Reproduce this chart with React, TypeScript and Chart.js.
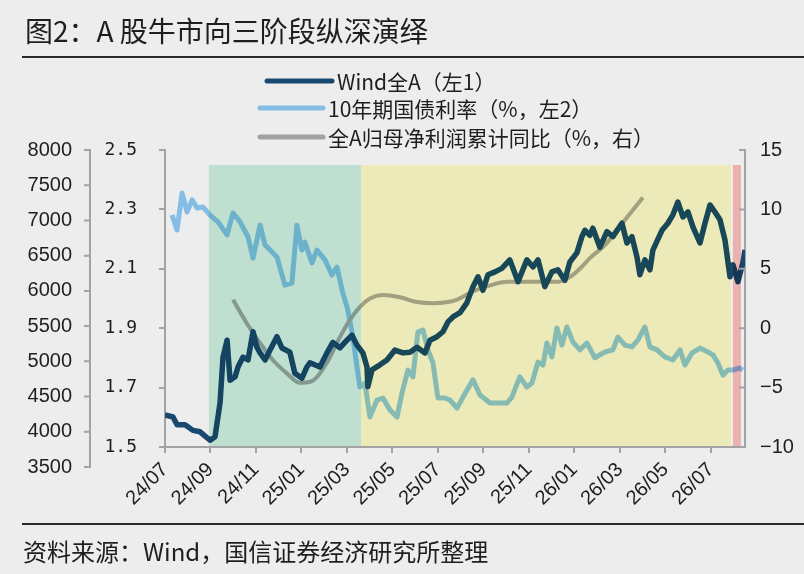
import { useEffect, useRef } from 'react';
import { Chart, registerables } from 'chart.js';

Chart.register(...registerables);

// x 轴单位：月，0 = 24/07
const tickMonths = [0, 2, 4, 6, 8, 10, 12, 14, 16, 18, 20, 22, 24];
const tickLabels = ['24/07', '24/09', '24/11', '25/01', '25/03', '25/05', '25/07', '25/09', '25/11', '26/01', '26/03', '26/05', '26/07'];

// Wind全A（左1）
const windT = [0, 0.35, 0.53, 0.88, 1.23, 1.54, 1.98, 2.2, 2.42, 2.55, 2.73, 2.86, 3.08, 3.21, 3.43, 3.65, 3.87, 4.04, 4.18, 4.4, 4.62, 4.92, 5.14, 5.49, 5.71, 6.02, 6.24, 6.37, 6.81, 7.12, 7.38, 7.69, 8.0, 8.22, 8.44, 8.7, 8.88, 8.92, 9.1, 9.45, 9.76, 10.11, 10.46, 10.77, 11.08, 11.43, 11.65, 11.96, 12.22, 12.44, 12.66, 12.97, 13.27, 13.54, 13.76, 13.98, 14.2, 14.51, 14.81, 15.16, 15.52, 15.91, 16.18, 16.4, 16.7, 17.01, 17.27, 17.58, 17.8, 18.11, 18.33, 18.46, 18.68, 18.81, 19.12, 19.43, 19.69, 20.09, 20.31, 20.53, 20.75, 20.88, 21.1, 21.32, 21.45, 21.85, 22.11, 22.33, 22.55, 22.77, 22.99, 23.21, 23.52, 23.74, 23.96, 24.18, 24.4, 24.62, 24.84, 24.97, 25.19, 25.41, 25.5];
const windV = [4240, 4210, 4100, 4100, 4020, 4000, 3880, 3930, 4410, 5060, 5300, 4730, 4780, 4920, 5060, 5020, 5420, 5200, 5120, 5020, 5160, 5350, 5190, 5130, 4830, 4760, 4920, 4980, 4920, 5120, 5270, 5190, 5300, 5370, 5230, 5120, 4920, 4640, 4880, 4950, 5020, 5160, 5120, 5130, 5200, 5120, 5300, 5350, 5420, 5560, 5630, 5690, 5830, 6060, 6200, 6010, 6230, 6270, 6320, 6440, 6130, 6440, 6340, 6440, 6060, 6270, 6300, 6150, 6410, 6540, 6770, 6860, 6790, 6890, 6620, 6840, 6770, 6960, 6680, 6770, 6480, 6230, 6440, 6300, 6580, 6860, 6960, 7080, 7260, 7050, 7120, 6910, 6680, 6960, 7220, 7120, 7010, 6720, 6200, 6370, 6130, 6400, 6580];

// 10年期国债利率（%，左2）
const bondT = [0.31, 0.53, 0.75, 0.97, 1.19, 1.41, 1.67, 1.98, 2.33, 2.73, 2.99, 3.3, 3.65, 3.87, 4.18, 4.4, 4.62, 4.92, 5.27, 5.58, 5.8, 6.02, 6.15, 6.46, 6.68, 7.03, 7.34, 7.56, 7.82, 8.04, 8.26, 8.44, 8.57, 8.79, 9.01, 9.32, 9.58, 9.89, 10.2, 10.42, 10.68, 10.9, 11.12, 11.34, 11.56, 11.78, 12.0, 12.31, 12.53, 12.84, 13.1, 13.54, 13.85, 14.29, 14.64, 15.03, 15.25, 15.6, 15.91, 16.13, 16.4, 16.62, 16.79, 17.01, 17.23, 17.45, 17.67, 17.93, 18.24, 18.55, 18.9, 19.34, 19.69, 19.91, 20.22, 20.53, 20.79, 21.1, 21.32, 21.63, 21.98, 22.33, 22.64, 22.86, 23.16, 23.52, 23.87, 24.09, 24.31, 24.53, 24.75, 24.97, 25.27, 25.41];
const bondV = [2.281, 2.231, 2.355, 2.291, 2.332, 2.305, 2.308, 2.281, 2.258, 2.214, 2.288, 2.258, 2.207, 2.136, 2.247, 2.18, 2.163, 2.14, 2.045, 2.052, 2.247, 2.163, 2.19, 2.12, 2.163, 2.13, 2.079, 2.106, 2.018, 1.961, 1.87, 1.769, 1.702, 1.715, 1.601, 1.658, 1.665, 1.625, 1.601, 1.682, 1.759, 1.736, 1.887, 1.894, 1.827, 1.783, 1.665, 1.665, 1.658, 1.631, 1.668, 1.726, 1.675, 1.648, 1.648, 1.648, 1.668, 1.736, 1.702, 1.715, 1.786, 1.776, 1.85, 1.803, 1.901, 1.843, 1.904, 1.854, 1.827, 1.85, 1.8, 1.82, 1.827, 1.87, 1.843, 1.837, 1.86, 1.904, 1.837, 1.827, 1.803, 1.793, 1.827, 1.776, 1.816, 1.833, 1.82, 1.81, 1.783, 1.742, 1.759, 1.759, 1.766, 1.759];

// 全A归母净利润累计同比（%，右）
const profitT = [2.99, 3.6, 4.18, 4.75, 5.36, 5.93, 6.51, 7.12, 7.69, 8.13, 8.57, 9.01, 9.58, 10.33, 11.08, 11.78, 12.44, 12.84, 13.54, 14.29, 15.03, 15.74, 16.48, 17.23, 17.8, 18.24, 18.68, 19.34, 20.22, 21.01];
const profitV = [2.4, 0.4, -1.25, -2.7, -3.8, -4.6, -4.4, -2.9, -0.75, 0.7, 1.8, 2.5, 2.8, 2.6, 2.2, 2.1, 2.2, 2.4, 3.1, 3.6, 3.9, 3.9, 3.9, 3.9, 4.3, 5.0, 5.9, 7.0, 9.1, 11.0];

const windTicks = [3500, 4000, 4500, 5000, 5500, 6000, 6500, 7000, 7500, 8000];
const bondTicks = [1.5, 1.7, 1.9, 2.1, 2.3, 2.5];

// 三个阶段（月）
const phaseFrom = [1.93, 8.62, 24.97];
const phaseTo = [8.62, 24.88, 25.32];
const phaseColors = ['rgb(206,240,225)', 'rgb(255,252,200)', 'rgb(253,190,190)'];

const BG = '#ededed';
const AXIS = '#a3a3a3';
const TEXT = '#1e1e1e';
const WIND_COLOR = '#18486f';
const BOND_COLOR = '#86bde6';
const PROFIT_COLOR = '#a2a2a2';

const toPoints = (t: number[], v: number[]) => t.map((x, i) => ({ x, y: v[i] }));

const legendRows = [
  { x0: 267, x1: 332, tx: 337, y: 81 },
  { x0: 260, x1: 323, tx: 328, y: 108 },
  { x0: 260, x1: 323, tx: 328, y: 137 },
];

const decorPlugin = {
  id: 'decor',
  beforeDraw(chart: any) {
    const { ctx, width, height } = chart;
    ctx.save();
    ctx.fillStyle = BG;
    ctx.fillRect(0, 0, width, height);
    ctx.restore();
  },
  afterDatasetsDraw(chart: any) {
    const { ctx, chartArea, scales } = chart;
    ctx.save();
    ctx.globalCompositeOperation = 'multiply';
    phaseFrom.forEach((f, i) => {
      const x0 = scales.x.getPixelForValue(f);
      const x1 = scales.x.getPixelForValue(phaseTo[i]);
      ctx.fillStyle = phaseColors[i];
      ctx.fillRect(x0, chartArea.top + 15, x1 - x0, chartArea.bottom - chartArea.top - 16);
    });
    ctx.restore();
  },
  afterDraw(chart: any) {
    const { ctx, chartArea, scales } = chart;
    ctx.save();
    ctx.strokeStyle = AXIS;
    ctx.lineWidth = 2;

    // 左1 轴（Wind全A），比绘图区更长
    const y1 = scales.y1;
    const top = y1.getPixelForValue(8000);
    const bot = y1.getPixelForValue(3500);
    ctx.beginPath();
    ctx.moveTo(90, top - 1);
    ctx.lineTo(90, bot + 1);
    windTicks.forEach((v) => {
      const py = y1.getPixelForValue(v);
      ctx.moveTo(84, py);
      ctx.lineTo(90, py);
    });
    ctx.stroke();
    ctx.fillStyle = TEXT;
    ctx.font = '20px "Liberation Sans", Arial, sans-serif';
    ctx.textAlign = 'right';
    ctx.textBaseline = 'middle';
    windTicks.forEach((v) => ctx.fillText(String(v), 72, y1.getPixelForValue(v)));

    // 右轴刻度朝内
    const y3 = scales.y3;
    ctx.beginPath();
    y3.ticks.forEach((t: any) => {
      const py = y3.getPixelForValue(t.value);
      ctx.moveTo(chartArea.right - 6, py);
      ctx.lineTo(chartArea.right, py);
    });
    ctx.stroke();

    // 图例
    ctx.lineCap = 'round';
    ctx.textAlign = 'left';
    ctx.font = '21px "Noto Sans CJK SC", sans-serif';
    chart.data.datasets.forEach((ds: any, i: number) => {
      const r = legendRows[i];
      ctx.strokeStyle = ds.borderColor;
      ctx.lineWidth = 5;
      ctx.beginPath();
      ctx.moveTo(r.x0, r.y);
      ctx.lineTo(r.x1, r.y);
      ctx.stroke();
      ctx.fillStyle = TEXT;
      ctx.fillText(ds.label, r.tx, r.y + 1);
    });
    ctx.restore();
  },
};

const App = () => {
  const canvasRef = useRef<HTMLCanvasElement>(null);
  const chartRef = useRef<Chart | null>(null);

  useEffect(() => {
    document.body.style.margin = '0';
    if (!canvasRef.current) return;
    if (chartRef.current) chartRef.current.destroy();

    chartRef.current = new Chart(canvasRef.current, {
      type: 'line',
      data: {
        datasets: [
          {
            label: 'Wind全A（左1）',
            data: toPoints(windT, windV),
            borderColor: WIND_COLOR,
            borderWidth: 5.5,
            pointRadius: 0,
            yAxisID: 'y1',
            order: 0,
            borderJoinStyle: 'round',
          },
          {
            label: '10年期国债利率（%，左2）',
            data: toPoints(bondT, bondV),
            borderColor: BOND_COLOR,
            borderWidth: 5,
            pointRadius: 0,
            yAxisID: 'y2',
            order: 2,
            borderJoinStyle: 'round',
          },
          {
            label: '全A归母净利润累计同比（%，右）',
            data: toPoints(profitT, profitV),
            borderColor: PROFIT_COLOR,
            borderWidth: 4,
            pointRadius: 0,
            yAxisID: 'y3',
            order: 1,
            cubicInterpolationMode: 'monotone',
          },
        ],
      },
      options: {
        responsive: false,
        animation: false,
        events: [],
        layout: { padding: { top: 150, left: 0, right: 0, bottom: 0 } },
        plugins: { legend: { display: false }, tooltip: { enabled: false } },
        scales: {
          x: {
            type: 'linear',
            min: 0,
            max: 25.5,
            afterBuildTicks: (s: any) => {
              s.ticks = tickMonths.map((value) => ({ value }));
            },
            afterFit: (s: any) => {
              s.height = 127;
            },
            grid: { drawOnChartArea: false, tickLength: 6, color: AXIS, lineWidth: 2 },
            border: { display: true, color: AXIS, width: 2 },
            ticks: {
              autoSkip: false,
              minRotation: 45,
              maxRotation: 45,
              padding: 5,
              color: TEXT,
              font: { family: '"Liberation Sans", Arial, sans-serif', size: 20 },
              callback: (_v: any, i: number) => tickLabels[i],
            },
          },
          y1: { type: 'linear', display: false, position: 'left', min: 3784, max: 8000 },
          y2: {
            type: 'linear',
            position: 'left',
            min: 1.5,
            max: 2.5,
            afterBuildTicks: (s: any) => {
              s.ticks = bondTicks.map((value) => ({ value }));
            },
            afterFit: (s: any) => {
              s.width = 165;
            },
            grid: { drawOnChartArea: false, tickLength: 6, color: AXIS, lineWidth: 2 },
            border: { display: true, color: AXIS, width: 2 },
            ticks: {
              padding: 22,
              color: TEXT,
              font: { family: '"DejaVu Sans Mono", monospace', size: 18 },
              callback: (v: any) => Number(v).toFixed(1),
            },
          },
          y3: {
            type: 'linear',
            position: 'right',
            min: -10,
            max: 15,
            afterFit: (s: any) => {
              s.width = 59;
            },
            grid: { display: false, drawTicks: false },
            border: { display: true, color: AXIS, width: 2 },
            ticks: {
              stepSize: 5,
              padding: 15,
              color: TEXT,
              font: { family: '"Liberation Sans", Arial, sans-serif', size: 20 },
              callback: (v: any) => (Number(v) < 0 ? '−' + Math.abs(Number(v)) : String(v)),
            },
          },
        },
      },
      plugins: [decorPlugin],
    });

    return () => {
      if (chartRef.current) {
        chartRef.current.destroy();
        chartRef.current = null;
      }
    };
  }, []);

  return (
    <div style={{ position: 'absolute', left: 0, top: 0, width: 804, height: 574, background: BG, overflow: 'hidden' }}>
      <canvas ref={canvasRef} width={804} height={574} style={{ position: 'absolute', left: 0, top: 0 }} />
      <div
        style={{
          position: 'absolute',
          left: 25,
          top: 16,
          fontFamily: '"Noto Sans CJK SC", sans-serif',
          fontSize: 28,
          lineHeight: '28px',
          color: TEXT,
          whiteSpace: 'nowrap',
        }}
      >
        图2：A 股牛市向三阶段纵深演绎
      </div>
      <div style={{ position: 'absolute', left: 22, right: 0, top: 56, height: 2, background: '#2a2a2a' }} />
      <div style={{ position: 'absolute', left: 22, right: 0, top: 523, height: 2, background: '#2a2a2a' }} />
      <div
        style={{
          position: 'absolute',
          left: 23,
          top: 539,
          fontFamily: '"Noto Sans CJK SC", sans-serif',
          fontSize: 24,
          lineHeight: '24px',
          color: TEXT,
          whiteSpace: 'nowrap',
        }}
      >
        资料来源：Wind，国信证券经济研究所整理
      </div>
    </div>
  );
};

export default App;
